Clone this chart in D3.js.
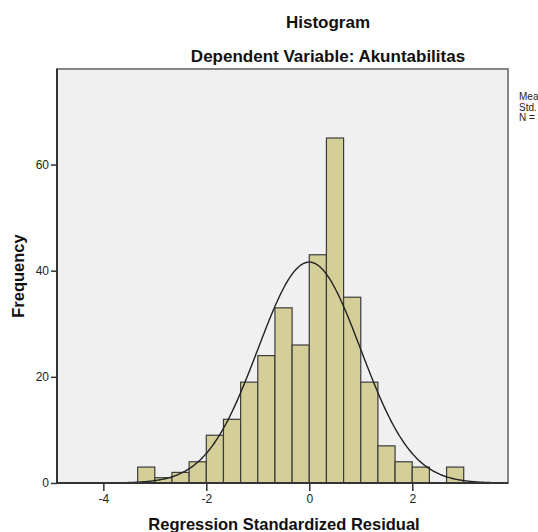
<!DOCTYPE html>
<html>
<head>
<meta charset="utf-8">
<script src="https://cdn.jsdelivr.net/npm/d3@7"></script>
<style>
body { margin: 0; background: #fff; }
svg { display: block; font-family: Arial, "Liberation Sans", sans-serif; }
</style>
</head>
<body>
<svg width="538" height="532"></svg>
<script>
// bins of width 1/3, start at -10/3
var binStart = -10 / 3;
var binWidth = 1 / 3;
var counts = [3, 1, 2, 4, 9, 12, 19, 24, 33, 26, 43, 65, 35, 19, 7, 4, 3, 0, 3];
var xTicks = [-4, -2, 0, 2];
var yTicks = [0, 20, 40, 60];
var mean = 0, sd = 0.997, N = 312;
var legendLines = ["Mean = -1.20E-15", "Std. Dev. = 0.997", "N = 312"];

var bins = counts.map(function(c, i) {
  return {x0: binStart + i * binWidth, x1: binStart + (i + 1) * binWidth, n: c};
});

var svg = d3.select("svg");
var pLeft = 57, pRight = 508, pTop = 69, pBottom = 483;

var x = d3.scaleLinear().domain([-4.9, 3.86]).range([pLeft, pRight]);
var y = d3.scaleLinear().domain([0, 78]).range([pBottom, pTop]);

// plot background + frame
svg.append("rect").attr("x", pLeft).attr("y", pTop)
  .attr("width", pRight - pLeft).attr("height", pBottom - pTop)
  .attr("fill", "#f0f0f0").attr("stroke", "#858585").attr("stroke-width", 2);

svg.append("g").selectAll("rect")
  .data(bins.filter(function(d) { return d.n > 0; }))
  .join("rect")
  .attr("x", function(d) { return x(d.x0); })
  .attr("y", function(d) { return y(d.n); })
  .attr("width", function(d) { return x(d.x1) - x(d.x0); })
  .attr("height", function(d) { return y(0) - y(d.n); })
  .attr("fill", "#d4cf98")
  .attr("stroke", "#3c3c3c")
  .attr("stroke-width", 1.2);

// normal curve
var pts = d3.range(-4.9, 3.861, 0.02).map(function(v) {
  var dens = Math.exp(-0.5 * Math.pow((v - mean) / sd, 2)) / (sd * Math.sqrt(2 * Math.PI));
  return [v, dens * N * binWidth];
});
svg.append("path")
  .datum(pts)
  .attr("fill", "none")
  .attr("stroke", "#222")
  .attr("stroke-width", 1.4)
  .attr("d", d3.line().x(function(d) { return x(d[0]); }).y(function(d) { return y(d[1]); }));

// axes
var xa = svg.append("g").attr("transform", "translate(0," + pBottom + ")")
  .call(d3.axisBottom(x).tickValues(xTicks).tickFormat(String).tickSize(8).tickPadding(3).tickSizeOuter(0));
var ya = svg.append("g").attr("transform", "translate(" + pLeft + ",0)")
  .call(d3.axisLeft(y).tickValues(yTicks).tickFormat(String).tickSize(6).tickPadding(2).tickSizeOuter(0));
[xa, ya].forEach(function(a) {
  a.select(".domain").attr("stroke", "#333").attr("stroke-width", 2);
  a.selectAll(".tick line").attr("stroke", "#333").attr("stroke-width", 1.5);
  a.selectAll(".tick text").attr("fill", "#222").style("font-size", "12px").style("font-family", "Arial, 'Liberation Sans', sans-serif");
});
xa.select(".domain").attr("d", "M" + pLeft + ",0H" + pRight);
ya.select(".domain").attr("d", "M0," + pBottom + "V" + pTop);

// titles
svg.append("text").attr("x", 328).attr("y", 28).attr("text-anchor", "middle")
  .style("font-size", "17px").style("font-weight", "bold").attr("fill", "#111").text("Histogram");
svg.append("text").attr("x", 328).attr("y", 62).attr("text-anchor", "middle")
  .style("font-size", "17px").style("font-weight", "bold").attr("fill", "#111").text("Dependent Variable: Akuntabilitas");
svg.append("text").attr("x", 284).attr("y", 530).attr("text-anchor", "middle")
  .style("font-size", "16.5px").style("font-weight", "bold").attr("fill", "#111").text("Regression Standardized Residual");
svg.append("text").attr("transform", "translate(24,276) rotate(-90)").attr("text-anchor", "middle")
  .style("font-size", "16.5px").style("font-weight", "bold").attr("fill", "#111").text("Frequency");

// legend (cut off by window edge)
svg.append("g").selectAll("text")
  .data(legendLines)
  .join("text")
  .attr("x", 519)
  .attr("y", function(d, i) { return 100 + i * 10.5; })
  .style("font-size", "10px")
  .attr("fill", "#222")
  .text(function(d) { return d; });
</script>
</body>
</html>
